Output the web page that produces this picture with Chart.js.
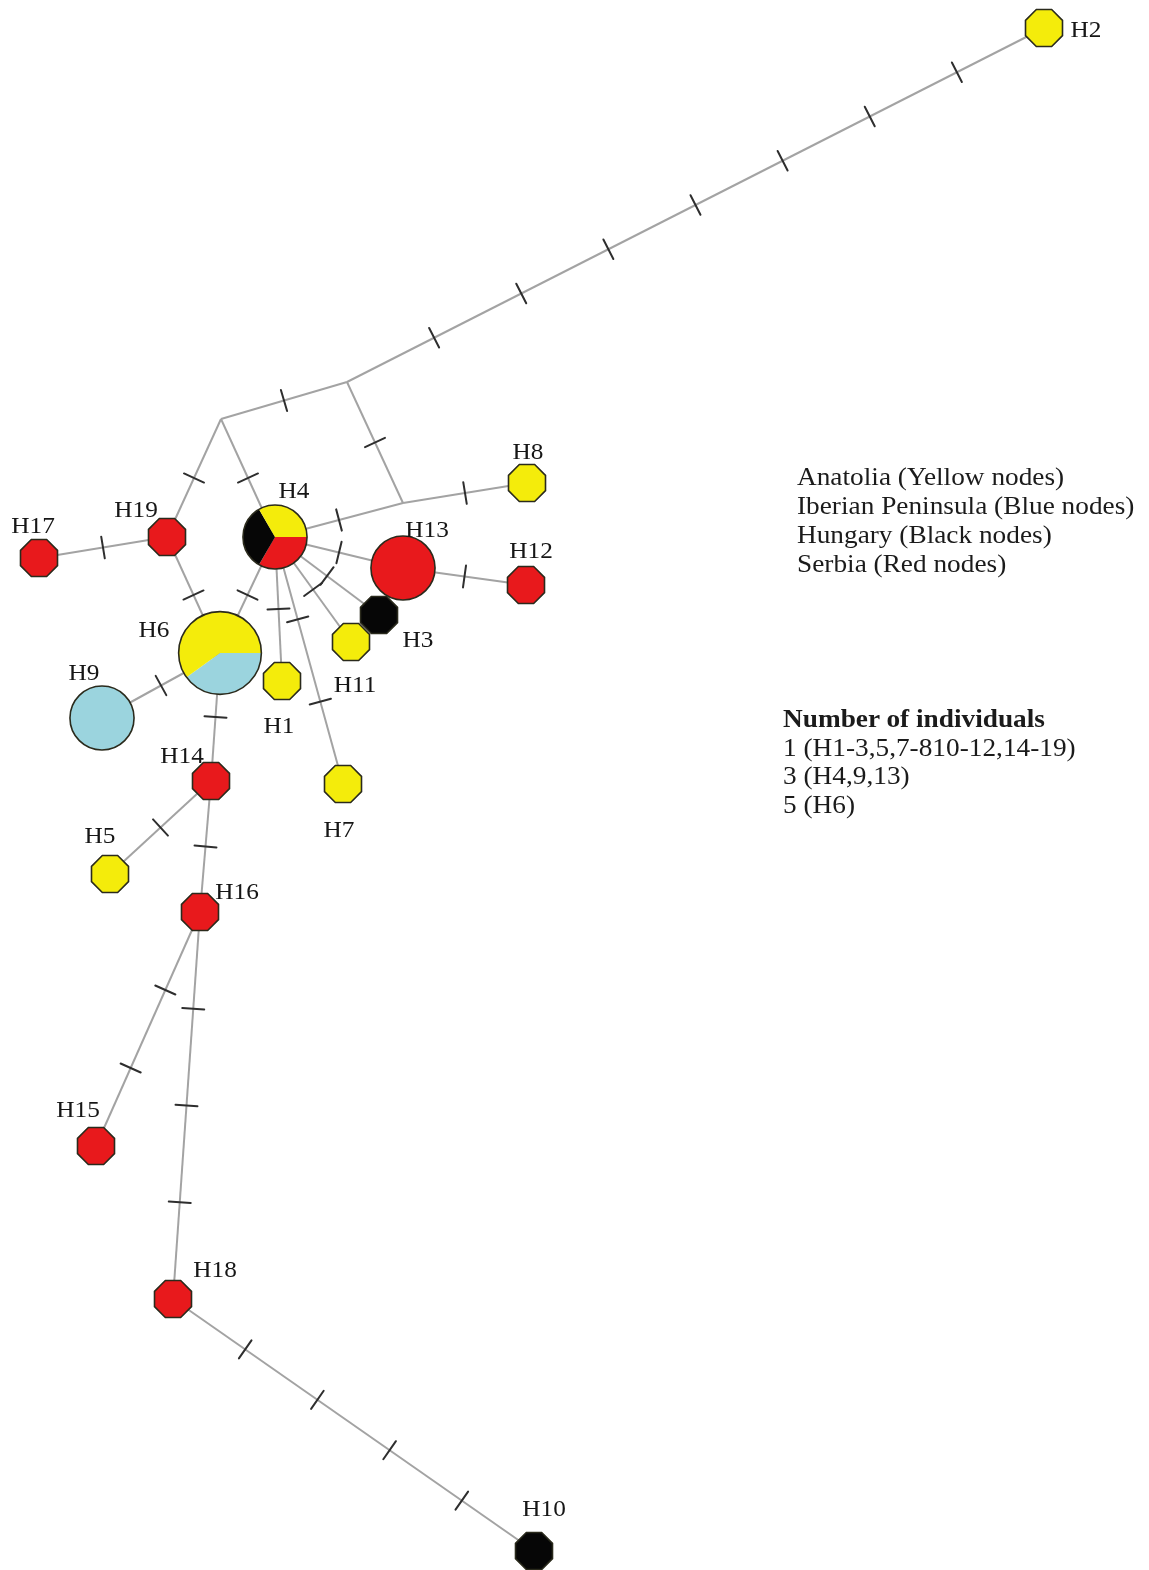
<!DOCTYPE html>
<html>
<head>
<meta charset="utf-8">
<title>Haplotype network</title>
<script src="https://cdn.jsdelivr.net/npm/chart.js@4/dist/chart.umd.min.js"></script>
<style>
  html, body { margin: 0; padding: 0; background: #ffffff; }
  #wrap { position: relative; width: 1149px; height: 1570px; overflow: hidden; background: #ffffff; }
  #net { position: absolute; left: 0; top: 0; }
  .key {
    position: absolute;
    font-family: "Liberation Serif", "Times New Roman", serif;
    font-size: 26px;
    color: #1b1b1b;
    white-space: nowrap;
    transform: scaleX(1.05);
    transform-origin: 0 0;
  }
  .key b { font-weight: bold; }
</style>
</head>
<body>
<div id="wrap">
  <canvas id="net" width="1149" height="1570"></canvas>
  <div class="key" style="left:797px; top:462px; line-height:29px;">
    Anatolia (Yellow nodes)<br>Iberian Peninsula (Blue nodes)<br>Hungary (Black nodes)<br>Serbia (Red nodes)
  </div>
  <div class="key" style="left:783px; top:705px; line-height:28.5px;">
    <b>Number of individuals</b><br>1 (H1-3,5,7-810-12,14-19)<br>3 (H4,9,13)<br>5 (H6)
  </div>
</div>
<script>
// Haplotypes and their layout coordinates
const haplotypes = ['H1','H2','H3','H4','H5','H6','H7','H8','H9','H10',
                    'H11','H12','H13','H14','H15','H16','H17','H18','H19'];
const hapX = [282, 1044, 379, 275, 110, 220, 343, 527, 102, 534,
              351, 526, 403, 211, 96, 200, 39, 173, 167];
const hapY = [681, 28, 615, 537, 874, 653, 784, 483, 718, 1551,
              642, 585, 568, 781, 1146, 912, 558, 1299, 537];

// Individuals per haplotype and region
const serbia   = [0,0,0,1,0,0,0,0,0,0, 0,1,3,1,1,1,1,1,1];
const hungary  = [0,0,1,1,0,0,0,0,0,1, 0,0,0,0,0,0,0,0,0];
const iberia   = [0,0,0,0,0,2,0,0,3,0, 0,0,0,0,0,0,0,0,0];
const anatolia = [1,1,0,1,1,3,1,1,0,0, 1,0,0,0,0,0,0,0,0];

// Median vectors (unsampled intermediate haplotypes)
const medianNames = ['mv1', 'mv2', 'mv3'];
const medianX = [221, 347, 403];
const medianY = [419, 382, 503];

// Network links and the number of mutational steps on each
const linkFrom  = ['mv2','mv2','mv1','mv1','mv2','H4','mv3','H4','H4','H4','H4','H4',
                   'H4','H19','H17','H13','H6','H6','H14','H14','H16','H16','H18'];
const linkTo    = ['H2','mv1','H19','H4','mv3','mv3','H8','H13','H3','H11','H1','H7',
                   'H6','H6','H19','H12','H9','H14','H5','H16','H15','H18','H10'];
const linkSteps = [7,1,1,1,1,1,1,1,1,1,1,2,
                   1,1,1,1,1,1,1,1,2,3,4];

// Region colours, in the order slices are laid out clockwise from 3 o'clock
const regionColours = ['#e8191c', '#060606', '#9bd4de', '#f4ec0b'];
const regionCounts = [serbia, hungary, iberia, anatolia];

const posX = {}, posY = {};
haplotypes.forEach((h, i) => { posX[h] = hapX[i]; posY[h] = hapY[i]; });
medianNames.forEach((m, i) => { posX[m] = medianX[i]; posY[m] = medianY[i]; });

const linkDatasets = linkFrom.map((a, i) => ({
  label: a + '-' + linkTo[i],
  showLine: true,
  data: [{ x: posX[a], y: posY[a] }, { x: posX[linkTo[i]], y: posY[linkTo[i]] }],
  borderColor: '#a3a3a3',
  borderWidth: 2,
  pointRadius: 0,
  pointHoverRadius: 0,
  fill: false
}));

const nodeDataset = {
  label: 'haplotypes',
  data: haplotypes.map((h, i) => ({ x: hapX[i], y: hapY[i] })),
  pointRadius: 0,
  pointHoverRadius: 0,
  showLine: false
};

// Where each haplotype name sits relative to its node (centre x, baseline y)
const labelOffsets = {
  H1: [-3, 52], H2: [42, 9], H3: [39, 32], H4: [19, -39], H5: [-10, -31],
  H6: [-66, -16], H7: [-4, 53], H8: [1, -24], H9: [-18, -38], H10: [10, -35],
  H11: [4, 50], H12: [5, -27], H13: [24, -31], H14: [-29, -18], H15: [-18, -29],
  H16: [37, -13], H17: [-6, -25], H18: [42, -22], H19: [-31, -20]
};

function nodeOutline(ctx, x, y, r, octagon) {
  ctx.beginPath();
  if (octagon) {
    const R = r / Math.cos(Math.PI / 8);
    for (let k = 0; k < 8; k++) {
      const a = Math.PI / 8 + k * Math.PI / 4;
      const px = x + R * Math.cos(a), py = y + R * Math.sin(a);
      if (k === 0) ctx.moveTo(px, py); else ctx.lineTo(px, py);
    }
    ctx.closePath();
  } else {
    ctx.arc(x, y, r, 0, Math.PI * 2);
    ctx.closePath();
  }
}

const networkPainter = {
  id: 'networkPainter',
  afterDatasetsDraw(chart) {
    const ctx = chart.ctx;
    ctx.save();

    // mutation hatch marks, evenly spaced and perpendicular to each link
    ctx.strokeStyle = '#2e2e2e';
    ctx.lineWidth = 2;
    ctx.lineCap = 'round';
    linkSteps.forEach((n, i) => {
      const pts = chart.getDatasetMeta(i).data;
      const p = pts[0], q = pts[1];
      const dx = q.x - p.x, dy = q.y - p.y;
      const len = Math.hypot(dx, dy);
      const nx = -dy / len, ny = dx / len;
      const half = 11;
      for (let k = 1; k <= n; k++) {
        const t = k / (n + 1);
        const cx = p.x + dx * t, cy = p.y + dy * t;
        ctx.beginPath();
        ctx.moveTo(cx - nx * half, cy - ny * half);
        ctx.lineTo(cx + nx * half, cy + ny * half);
        ctx.stroke();
      }
    });

    // haplotype nodes: size by number of individuals, slices by region
    const meta = chart.getDatasetMeta(linkDatasets.length);
    meta.data.forEach((pt, i) => {
      const counts = regionCounts.map(arr => arr[i]);
      const total = counts.reduce((s, v) => s + v, 0);
      const r = 18.5 * Math.sqrt(total);
      const octagon = total === 1;
      const used = counts.filter(c => c > 0).length;
      if (used === 1) {
        nodeOutline(ctx, pt.x, pt.y, r, octagon);
        ctx.fillStyle = regionColours[counts.findIndex(c => c > 0)];
        ctx.fill();
      } else {
        let start = 0;
        counts.forEach((c, k) => {
          if (!c) return;
          const end = start + Math.PI * 2 * c / total;
          ctx.beginPath();
          ctx.moveTo(pt.x, pt.y);
          ctx.arc(pt.x, pt.y, r, start, end);
          ctx.closePath();
          ctx.fillStyle = regionColours[k];
          ctx.fill();
          start = end;
        });
      }
      nodeOutline(ctx, pt.x, pt.y, r, octagon);
      ctx.strokeStyle = '#2a2a1c';
      ctx.lineWidth = 1.6;
      ctx.stroke();
    });

    // haplotype names
    ctx.fillStyle = '#161616';
    ctx.font = '23px "Liberation Serif", "Times New Roman", serif';
    ctx.textAlign = 'center';
    ctx.textBaseline = 'alphabetic';
    meta.data.forEach((pt, i) => {
      const name = haplotypes[i];
      const off = labelOffsets[name];
      ctx.save();
      ctx.translate(pt.x + off[0], pt.y + off[1]);
      ctx.scale(1.1, 1);
      ctx.fillText(name, 0, 0);
      ctx.restore();
    });

    ctx.restore();
  }
};

new Chart(document.getElementById('net'), {
  type: 'scatter',
  data: { datasets: [...linkDatasets, nodeDataset] },
  options: {
    responsive: false,
    animation: false,
    events: [],
    layout: { padding: 0 },
    scales: {
      x: { type: 'linear', min: 0, max: 1149, display: false },
      y: { type: 'linear', min: 0, max: 1570, reverse: true, display: false }
    },
    plugins: {
      legend: { display: false },
      tooltip: { enabled: false }
    }
  },
  plugins: [networkPainter]
});
</script>
</body>
</html>
